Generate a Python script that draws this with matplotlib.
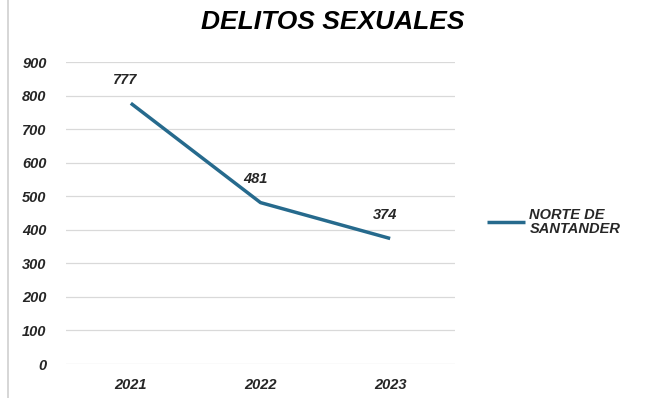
import matplotlib
matplotlib.use("Agg")
import matplotlib.pyplot as plt
from matplotlib.lines import Line2D

years = ["2021", "2022", "2023"]
values = [777, 481, 374]
series_name = "NORTE DE\nSANTANDER"
title = "DELITOS SEXUALES"

plt.rcParams['font.family'] = ['Liberation Sans', 'DejaVu Sans']

fig = plt.figure(figsize=(6.53, 3.98), dpi=100)
ax = fig.add_axes([66/653, 1-364/398, (455-66)/653, (364-62)/398])

x = [i + 0.5 for i in range(len(years))]
color = '#266A8D'
line, = ax.plot(x, values, color=color, lw=2.5, solid_capstyle='butt')
ax.set_xlim(0, len(years))
ax.set_ylim(0, 900)
ax.set_yticks(range(0, 901, 100))
ax.set_xticks(x)
ax.set_xticklabels(years)
ax.grid(axis='y', color='#d9d9d9', lw=0.9)
ax.set_axisbelow(True)
for s in ax.spines.values():
    s.set_visible(False)
ax.tick_params(length=0, labelsize=10.5)
ax.tick_params(axis='y', pad=14)
ax.tick_params(axis='x', pad=10)
for lab in ax.get_xticklabels() + ax.get_yticklabels():
    lab.set_fontweight('bold')
    lab.set_fontstyle('italic')
    lab.set_color('#262626')

for xi, v in zip(x, values):
    ax.annotate(str(v), (xi, v), xytext=(-4, 12), textcoords='offset points',
                ha='center', va='bottom', fontsize=10.5, fontweight='bold',
                fontstyle='italic', color='#262626')

fig.text(333/653, 1-22/398, title, ha='center', va='center', fontsize=19,
         fontweight='bold', fontstyle='italic', color='black')

leg = fig.legend([line], [series_name], loc='center left',
                 bbox_to_anchor=(474/653, 1-222/398), frameon=False,
                 handlelength=2.6, handletextpad=0.3, labelspacing=0.2,
                 prop={'weight': 'bold', 'style': 'italic', 'size': 10.5})
for t in leg.get_texts():
    t.set_color('#262626')
    t.set_linespacing(1.0)

fig.add_artist(Line2D([8/653, 8/653], [0, 1], transform=fig.transFigure,
                      color='#d0d0d0', lw=1.2))

fig.savefig("out.png", dpi=100, facecolor='white')
